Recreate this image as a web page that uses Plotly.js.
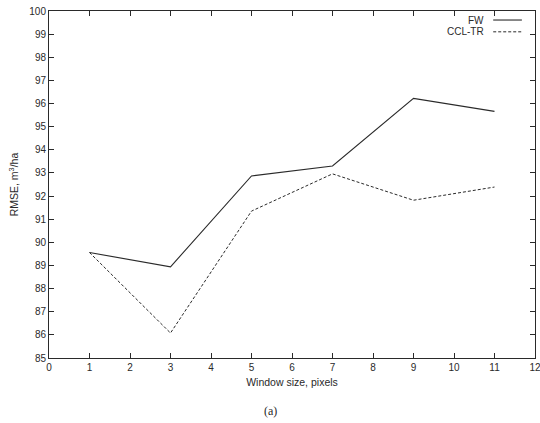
<!DOCTYPE html>
<html><head><meta charset="utf-8">
<script src="https://cdn.plot.ly/plotly-3.0.1.min.js"></script>
<style>html,body{margin:0;padding:0;background:#fff}#chart{width:540px;height:423px}</style>
</head><body><div id="chart"></div>
<script>
const windowSizes = [1, 3, 5, 7, 9, 11];
const fwRMSE = [89.56, 88.94, 92.87, 93.3, 96.22, 95.66];
const cclTrRMSE = [89.56, 86.08, 91.35, 92.96, 91.82, 92.39];
const seriesNames = ["FW", "CCL-TR"];
const xTicks = [0,1,2,3,4,5,6,7,8,9,10,11,12];
const yTicks = [85,86,87,88,89,90,91,92,93,94,95,96,97,98,99,100];

const ink = '#2a2a2a';
const font = {family: 'Liberation Sans, Arial, sans-serif', size: 10, color: ink};
const titleFont = {family: 'Liberation Sans, Arial, sans-serif', size: 10.5, color: ink};

const traces = [
  {x: windowSizes, y: fwRMSE, name: seriesNames[0], mode: 'lines', line: {color: ink, width: 1.1}},
  {x: windowSizes, y: cclTrRMSE, name: seriesNames[1], mode: 'lines', line: {color: ink, width: 1, dash: '3px,2px'}}
];

const axisCommon = {
  showline: true, linecolor: ink, linewidth: 1, mirror: 'ticks',
  ticks: 'inside', ticklen: 5, tickcolor: ink, tickwidth: 1,
  showgrid: false, zeroline: false, tickfont: font, ticklabeloverflow: 'allow'
};

const layout = {
  width: 540, height: 423,
  margin: {l: 49, r: 5, t: 11, b: 65},
  paper_bgcolor: '#fff', plot_bgcolor: '#fff',
  font: font,
  showlegend: false,
  xaxis: Object.assign({}, axisCommon, {
    range: [0, 12], tickvals: xTicks, ticktext: xTicks.map(String),
    title: {text: 'Window size, pixels', font: titleFont, standoff: 6}
  }),
  yaxis: Object.assign({}, axisCommon, {
    range: [85, 100], tickvals: yTicks, ticktext: yTicks.map(String),
    title: {text: 'RMSE, m<sup>3</sup>/ha', font: titleFont, standoff: 8}
  }),
  annotations: [
    {xref: 'paper', yref: 'paper', x: 0.9, y: 0.974, xanchor: 'right', yanchor: 'middle', text: seriesNames[0], showarrow: false, font: font},
    {xref: 'paper', yref: 'paper', x: 0.9, y: 0.940, xanchor: 'right', yanchor: 'middle', text: seriesNames[1], showarrow: false, font: font},
    {xref: 'paper', yref: 'paper', x: 0.455, y: -0.153, xanchor: 'center', yanchor: 'middle', text: '(a)', showarrow: false, font: {family: 'Liberation Serif, serif', size: 12, color: ink}}
  ],
  shapes: [
    {type: 'line', xref: 'paper', yref: 'paper', x0: 0.914, x1: 0.973, y0: 0.974, y1: 0.974, line: {color: ink, width: 1.1}},
    {type: 'line', xref: 'paper', yref: 'paper', x0: 0.914, x1: 0.973, y0: 0.940, y1: 0.940, line: {color: ink, width: 1, dash: '3px,2px'}}
  ]
};

Plotly.newPlot('chart', traces, layout, {displayModeBar: false, staticPlot: true});
</script></body></html>
